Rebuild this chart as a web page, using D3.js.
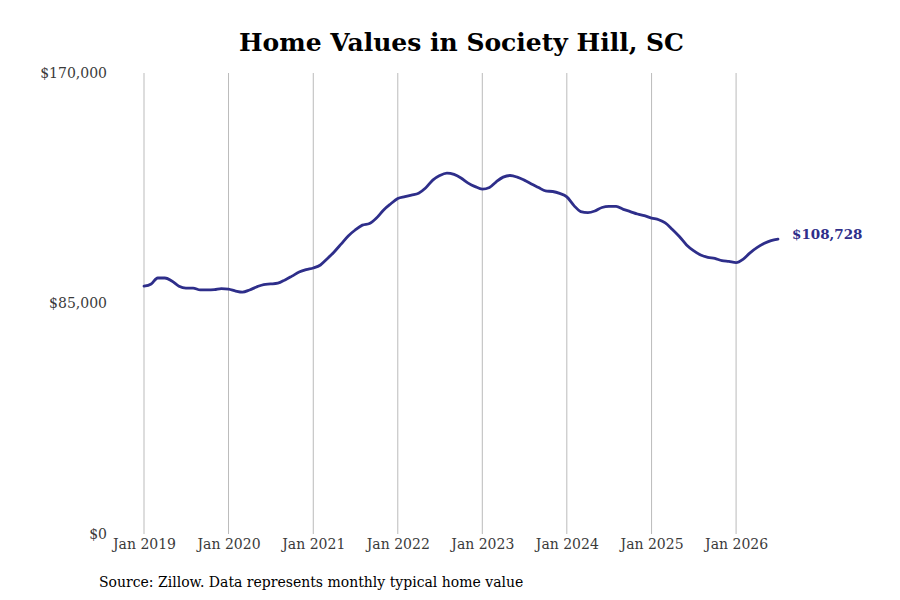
<!DOCTYPE html>
<html>
<head>
<meta charset="utf-8">
<script src="https://cdn.jsdelivr.net/npm/d3@7"></script>
<style>
  body { margin: 0; background: #fff; }
  svg { font-family: "DejaVu Serif", serif; }
</style>
</head>
<body>
<svg width="900" height="600"></svg>
<script>
// monthly typical home value, Jan 2019 .. Jul 2026 (thousands of dollars)
const startYear = 2019;
const values = [
  91.4, 92.2, 94.4, 94.4, 93.3, 91.4, 90.7, 90.7, 90.0, 90.0, 90.1, 90.5,
  90.3, 89.6, 89.2, 90.0, 91.1, 92.0, 92.2, 92.5, 93.7, 95.1, 96.6, 97.5,
  98.1, 99.2, 101.4, 104.0, 106.9, 109.9, 112.1, 113.9, 114.5, 116.5, 119.5, 121.7,
  123.7, 124.4, 125.0, 125.7, 127.6, 130.5, 132.2, 133.1, 132.6, 131.3, 129.4, 128.1,
  127.2, 127.8, 129.8, 131.6, 132.2, 131.6, 130.5, 129.1, 127.8, 126.5, 126.3, 125.6,
  124.3, 121.1, 118.9, 118.5, 119.1, 120.4, 120.8, 120.8, 119.7, 118.9, 118.0, 117.4,
  116.5, 115.9, 114.7, 112.3, 109.7, 106.6, 104.5, 102.9, 102.0, 101.6, 100.8, 100.5,
  100.1, 101.4, 103.6, 105.6, 107.1, 108.2, 108.728
];
const yTicks = [0, 85000, 170000];
const xTickYears = [2019, 2020, 2021, 2022, 2023, 2024, 2025, 2026];
const lastLabel = "$108,728";

const main = function() {
  const svg = d3.select("svg");
  const margin = { left: 144, right: 122, top: 73, bottom: 66 };
  const width = 900, height = 600;

  const data = values.map((v, i) => ({
    date: new Date(startYear, i, 1),
    value: v * 1000
  }));

  const x = d3.scaleTime()
    .domain([new Date(2019, 0, 1), new Date(2026, 6, 1)])
    .range([margin.left, width - margin.right]);
  const y = d3.scaleLinear()
    .domain([0, 170000])
    .range([height - margin.bottom, margin.top]);

  svg.append("text")
    .attr("x", 461.5)
    .attr("y", 51)
    .attr("text-anchor", "middle")
    .attr("font-size", 25)
    .attr("font-weight", "bold")
    .attr("fill", "#000")
    .text("Home Values in Society Hill, SC");

  // vertical grid lines
  svg.append("g")
    .selectAll("line")
    .data(xTickYears)
    .enter()
    .append("line")
    .attr("x1", d => x(new Date(d, 0, 1)))
    .attr("x2", d => x(new Date(d, 0, 1)))
    .attr("y1", y(170000))
    .attr("y2", y(0))
    .attr("stroke", "#bbb")
    .attr("stroke-width", 1);

  const xAxis = svg.append("g")
    .attr("transform", `translate(0, ${y(0)})`)
    .call(d3.axisBottom(x)
      .tickValues(xTickYears.map(d => new Date(d, 0, 1)))
      .tickFormat(d3.timeFormat("%b %Y"))
      .tickSize(0)
      .tickPadding(5));
  xAxis.select(".domain").remove();
  xAxis.selectAll("text")
    .attr("font-family", "DejaVu Serif, serif")
    .attr("font-size", 14)
    .attr("fill", "#3a3a3a");

  const yAxis = svg.append("g")
    .attr("transform", `translate(107, 0)`)
    .call(d3.axisLeft(y)
      .tickValues(yTicks)
      .tickFormat(d => "$" + d3.format(",")(d))
      .tickSize(0)
      .tickPadding(0));
  yAxis.select(".domain").remove();
  yAxis.selectAll("text")
    .attr("font-family", "DejaVu Serif, serif")
    .attr("font-size", 14)
    .attr("fill", "#3a3a3a");

  const line = d3.line()
    .x(d => x(d.date))
    .y(d => y(d.value))
    .curve(d3.curveMonotoneX);

  svg.append("path")
    .datum(data)
    .attr("d", line)
    .attr("fill", "none")
    .attr("stroke", "#2e2e8a")
    .attr("stroke-width", 2.8)
    .attr("stroke-linejoin", "round")
    .attr("stroke-linecap", "round");

  const last = data[data.length - 1];
  svg.append("text")
    .attr("x", x(last.date) + 14)
    .attr("y", y(last.value) - 5)
    .attr("dy", "0.35em")
    .attr("font-size", 13.5)
    .attr("font-weight", "bold")
    .attr("fill", "#2e2e8a")
    .text(lastLabel);

  svg.append("text")
    .attr("x", 99)
    .attr("y", 587)
    .attr("font-size", 14)
    .attr("fill", "#000")
    .text("Source: Zillow. Data represents monthly typical home value");
};

window.onload = main;
</script>
</body>
</html>
